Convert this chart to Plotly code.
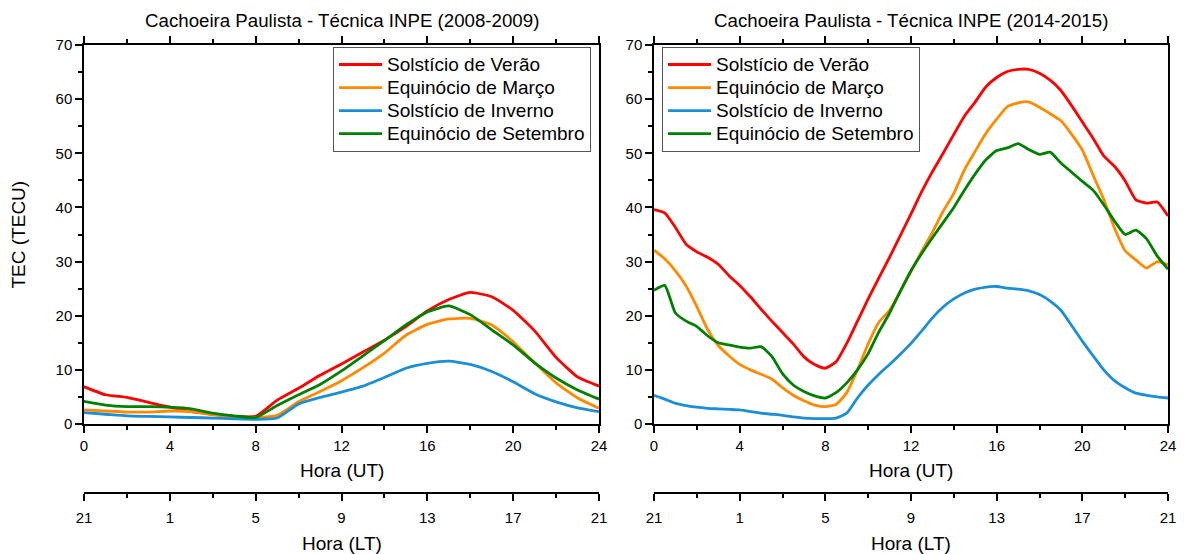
import plotly.graph_objects as go

# Hourly TEC curves (UT hours) for Cachoeira Paulista, 2008-2009
ut_2008 = list(range(0, 25))
verao_2008 = [6.9, 5.4, 4.9, 4.0, 3.1, 2.3, 1.8, 1.4, 1.4, 4.4, 6.6, 9.0, 11.1, 13.3, 15.5,
              18.0, 20.9, 23.0, 24.3, 23.5, 21.0, 17.2, 12.3, 8.7, 7.0]
marco_2008 = [2.6, 2.4, 2.2, 2.2, 2.4, 2.3, 1.7, 1.4, 1.2, 1.6, 4.1, 6.0, 8.0, 10.4, 13.1,
              16.4, 18.4, 19.4, 19.5, 18.3, 15.2, 11.3, 7.6, 4.8, 2.9]
inverno_2008 = [2.1, 1.8, 1.5, 1.4, 1.3, 1.2, 1.1, 0.95, 0.85, 1.1, 3.7, 4.9, 5.9, 7.0, 8.6,
                10.3, 11.2, 11.6, 11.0, 9.7, 7.8, 5.6, 4.1, 3.0, 2.3]
setembro_2008 = [4.2, 3.5, 3.2, 3.2, 3.1, 2.8, 2.0, 1.5, 1.2, 3.4, 5.4, 7.3, 9.8, 12.6, 15.4,
                 18.3, 20.7, 21.8, 20.2, 17.4, 14.6, 11.3, 8.5, 6.3, 4.6]

# Half-hourly TEC curves (UT hours) for Cachoeira Paulista, 2014-2015
ut_2014 = [h / 2 for h in range(0, 49)]
verao_2014 = [39.6, 39.0, 36.3, 33.2, 31.8, 30.8, 29.5, 27.4, 25.6, 23.5, 21.2, 19.0, 16.9,
              14.8, 12.4, 11.0, 10.3, 11.5, 14.9, 19.0, 23.1, 27.0, 30.8, 34.8, 38.8, 42.9,
              46.6, 50.0, 53.5, 56.9, 59.5, 62.3, 64.0, 65.1, 65.5, 65.5, 64.8, 63.5, 61.6,
              58.8, 55.8, 52.8, 49.5, 47.6, 44.9, 41.4, 40.8, 41.0, 38.4]
marco_2014 = [32.1, 30.5, 28.3, 25.5, 21.7, 17.5, 14.5, 12.6, 11.0, 10.0, 9.2, 8.3, 6.7,
              5.3, 4.3, 3.5, 3.2, 3.6, 5.8, 10.0, 14.8, 18.8, 21.0, 24.5, 28.2, 31.9, 35.4,
              39.3, 42.6, 47.0, 50.4, 53.7, 56.3, 58.6, 59.3, 59.5, 58.5, 57.3, 56.0, 53.5,
              50.6, 46.0, 41.5, 36.2, 32.0, 30.3, 28.8, 30.0, 29.4]
inverno_2014 = [5.3, 4.6, 3.8, 3.4, 3.1, 2.9, 2.8, 2.7, 2.6, 2.3, 2.0, 1.8, 1.6, 1.3, 1.1,
                1.0, 1.0, 1.1, 2.0, 4.8, 7.2, 9.2, 11.0, 12.9, 14.9, 17.2, 19.6, 21.6, 23.1,
                24.2, 24.9, 25.3, 25.4, 25.1, 24.9, 24.6, 23.9, 22.7, 21.0, 18.2, 15.3, 12.6,
                10.0, 8.0, 6.7, 5.7, 5.3, 5.0, 4.8]
setembro_2014 = [24.7, 25.6, 20.5, 19.0, 18.0, 16.3, 15.0, 14.6, 14.2, 14.0, 14.3, 12.5, 9.3,
                 7.2, 6.0, 5.2, 4.8, 5.8, 7.6, 10.0, 13.0, 17.0, 20.5, 24.5, 28.3, 31.5, 34.4,
                 37.2, 40.0, 43.2, 46.2, 48.8, 50.5, 51.0, 51.8, 50.7, 49.8, 50.2, 48.2, 46.5,
                 44.8, 43.2, 40.5, 37.5, 35.0, 35.8, 34.2, 31.0, 28.6]

series_names = ["Solstício de Verão", "Equinócio de Março",
                "Solstício de Inverno", "Equinócio de Setembro"]
series_colors = ["#ff0000", "#ff8a00", "#1a8fd6", "#008000"]

ut_ticks = [0, 4, 8, 12, 16, 20, 24]
lt_labels = ["21", "1", "5", "9", "13", "17", "21"]
tec_ticks = [0, 10, 20, 30, 40, 50, 60, 70]

titles = ["Cachoeira Paulista - Técnica INPE (2008-2009)",
          "Cachoeira Paulista - Técnica INPE (2014-2015)"]

FONT = "Arial, Liberation Sans, sans-serif"
TITLE_SIZE = 18.7
TEXT_SIZE = 19
TICK_SIZE = 15
LEGEND_ROW = 15.4   # legend font size that sets the row pitch; entry text is styled larger

fig = go.Figure()

panels = [
    (ut_2008, [verao_2008, marco_2008, inverno_2008, setembro_2008], "x", "y", "legend", "x3"),
    (ut_2014, [verao_2014, marco_2014, inverno_2014, setembro_2014], "x2", "y2", "legend2", "x4"),
]
for hours, curves, xa, ya, leg, lt in panels:
    for name, color, values in zip(series_names, series_colors, curves):
        fig.add_trace(go.Scatter(
            x=hours, y=values, mode="lines",
            name=f'<span style="font-size:{TEXT_SIZE}px">{name}</span>',
            line=dict(color=color, width=2.8, shape="spline", smoothing=0.5),
            xaxis=xa, yaxis=ya, legend=leg,
        ))
    # empty trace so the local-time axis gets its own (overlaid) subplot
    fig.add_trace(go.Scatter(x=ut_ticks, y=[None] * len(ut_ticks), mode="lines",
                             xaxis=lt, yaxis=ya, showlegend=False, hoverinfo="skip"))

# Plot area spans 84..599 px (left) and 654..1168 px (right); LT axis sits on paper bottom
W, H = 1184, 554
top_px, plot_bottom_px, lt_px = 45, 424, 493
paper_h = lt_px - top_px
ydom = [(lt_px - plot_bottom_px) / paper_h, 1]
xdom_left = [84 / W, 599 / W]
xdom_right = [654 / W, 1168 / W]

axis_common = dict(
    showline=True, linecolor="black", linewidth=1.5,
    ticks="outside", ticklen=7, tickwidth=1.5, tickcolor="black",
    showgrid=False, zeroline=False, automargin=False,
    tickfont=dict(family=FONT, size=TICK_SIZE, color="black"),
)

minor_common = dict(ticks="outside", ticklen=4, tickwidth=1.5, tickcolor="black",
                    showgrid=False)

def ut_axis(domain, anchor):
    return dict(axis_common, domain=domain, anchor=anchor, range=[0, 24],
                tickvals=ut_ticks, mirror="ticks",
                minor=dict(minor_common, dtick=2, tick0=0))

def tec_axis(anchor):
    return dict(axis_common, domain=ydom, anchor=anchor, range=[0, 70],
                tickvals=tec_ticks, mirror=True,
                minor=dict(minor_common, dtick=5, tick0=0))

def lt_axis(over):
    return dict(axis_common, overlaying=over, anchor="free", position=0,
                range=[0, 24], tickvals=ut_ticks, ticktext=lt_labels,
                side="bottom", ticklabelstandoff=4,
                minor=dict(minor_common, dtick=2, tick0=0))

def legend_box(x_px, top):
    return dict(x=x_px / W, y=(lt_px - top) / paper_h, xanchor="left", yanchor="top",
                bgcolor="white", bordercolor="#555555", borderwidth=1,
                font=dict(family=FONT, size=LEGEND_ROW, color="black"),
                tracegroupgap=0, itemwidth=43)

def py(px):
    return (lt_px - px) / paper_h

annotations = []
for title, dom in zip(titles, [xdom_left, xdom_right]):
    cx = (dom[0] + dom[1]) / 2
    for text, ypx, size in [(title, 20, TITLE_SIZE), ("Hora (UT)", 470, TEXT_SIZE),
                            ("Hora (LT)", 543, TEXT_SIZE)]:
        annotations.append(dict(text=text, x=cx, y=py(ypx), xref="paper", yref="paper",
                                showarrow=False, xanchor="center", yanchor="middle",
                                font=dict(family=FONT, size=size, color="black")))
annotations.append(dict(text="TEC (TECU)", x=18 / W, y=py((top_px + plot_bottom_px) / 2),
                        xref="paper", yref="paper", textangle=-90, showarrow=False,
                        xanchor="center", yanchor="middle",
                        font=dict(family=FONT, size=TEXT_SIZE, color="black")))

fig.update_layout(
    width=W, height=H,
    margin=dict(l=0, r=0, t=top_px, b=H - lt_px, autoexpand=False),
    paper_bgcolor="white", plot_bgcolor="white",
    font=dict(family=FONT, color="black"),
    xaxis=ut_axis(xdom_left, "y"),
    yaxis=tec_axis("x"),
    xaxis2=ut_axis(xdom_right, "y2"),
    yaxis2=tec_axis("x2"),
    xaxis3=lt_axis("x"),
    xaxis4=lt_axis("x2"),
    legend=legend_box(333, 47),
    legend2=legend_box(662, 47),
    annotations=annotations,
)

fig.write_html("out.html")
